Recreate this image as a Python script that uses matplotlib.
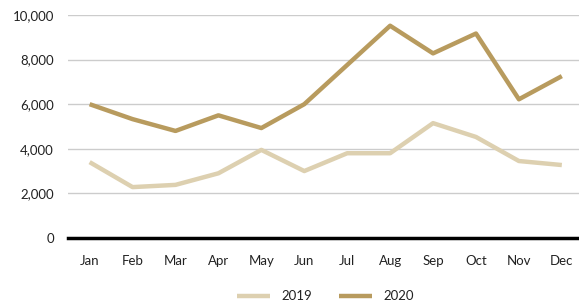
import matplotlib
matplotlib.use("Agg")
import matplotlib.pyplot as plt
from matplotlib.ticker import FuncFormatter

months = ["Jan", "Feb", "Mar", "Apr", "May", "Jun", "Jul", "Aug", "Sep", "Oct", "Nov", "Dec"]
values_2019 = [3400, 2280, 2380, 2900, 3950, 3000, 3800, 3800, 5150, 4530, 3450, 3270]
values_2020 = [6000, 5330, 4800, 5500, 4930, 6000, 7760, 9520, 8280, 9170, 6220, 7260]
yticks = [0, 2000, 4000, 6000, 8000, 10000]

plt.rcParams['font.family'] = ['Lato', 'DejaVu Sans']

fig = plt.figure(figsize=(5.79, 3.07), dpi=100)
ax = fig.add_axes([0.117, 0.225, 0.883, 0.726])

x = list(range(len(months)))
ax.plot(x, values_2019, color="#DDD0B0", lw=3.2, label="2019", solid_capstyle="butt", zorder=3)
ax.plot(x, values_2020, color="#B89B5E", lw=3.2, label="2020", solid_capstyle="butt", zorder=4)

ax.set_ylim(0, 10000)
ax.set_xlim(-0.51, 11.4)
ax.set_yticks(yticks)
ax.yaxis.set_major_formatter(FuncFormatter(lambda v, p: f"{int(v):,}"))
ax.set_xticks(x)
ax.set_xticklabels(months)
ax.grid(axis="y", color="#cccccc", lw=1)
ax.set_axisbelow(True)
for s in ["top", "right", "left"]:
    ax.spines[s].set_visible(False)
ax.spines["bottom"].set_color("black")
ax.spines["bottom"].set_linewidth(2.5)
ax.spines["bottom"].set_zorder(5)
ax.tick_params(axis="both", length=0, labelsize=9.5, colors="#222222")
ax.tick_params(axis="y", pad=10)
ax.tick_params(axis="x", pad=12)

leg = fig.legend(loc="center", bbox_to_anchor=(0.562, 0.035), ncol=2, frameon=False,
                 fontsize=9.5, handlelength=2.5, columnspacing=2.0, handletextpad=0.9)
for t in leg.get_texts():
    t.set_color("#222222")

fig.savefig("out.png", dpi=100)
